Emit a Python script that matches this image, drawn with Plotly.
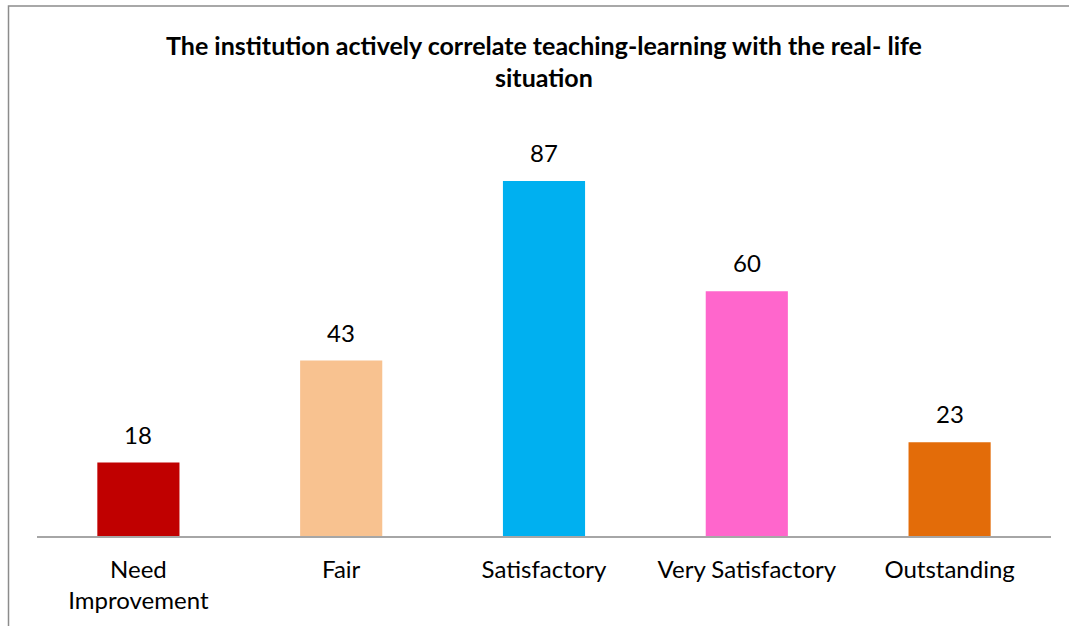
import plotly.graph_objects as go

categories = ["Need Improvement", "Fair", "Satisfactory", "Very Satisfactory", "Outstanding"]
tick_labels = ["Need<br>Improvement", "Fair", "Satisfactory", "Very Satisfactory", "Outstanding"]
values = [18, 43, 87, 60, 23]
colors = ["#C00000", "#F8C290", "#00B0F0", "#FF66CC", "#E36C09"]
title_lines = ["The institution actively correlate teaching-learning with the real- life", "situation"]

FONT = "Lato, 'Open Sans', sans-serif"

fig = go.Figure()
fig.add_trace(go.Bar(
    x=categories, y=values,
    marker=dict(color=colors, line=dict(width=0)),
    hoverinfo="x+y",
))

annotations = []
for c, v in zip(categories, values):
    annotations.append(dict(x=c, y=v, xref="x", yref="y", text=str(v), showarrow=False,
                            yanchor="bottom", yshift=12,
                            font=dict(family=FONT, size=24, color="#000000")))
annotations.append(dict(x=0.5, y=1.203, xref="paper", yref="paper", text="<b>" + title_lines[0] + "</b>",
                        showarrow=False, yanchor="middle",
                        font=dict(family=FONT, size=25, color="#000000")))
annotations.append(dict(x=0.5, y=1.1245, xref="paper", yref="paper", text="<b>" + title_lines[1] + "</b>",
                        showarrow=False, yanchor="middle",
                        font=dict(family=FONT, size=25, color="#000000")))

fig.update_layout(
    width=1069, height=626,
    margin=dict(l=37, r=18, t=128, b=90),
    paper_bgcolor="white", plot_bgcolor="white",
    bargap=0.595,
    showlegend=False,
    annotations=annotations,
    xaxis=dict(
        tickmode="array", tickvals=categories, ticktext=tick_labels,
        showline=True, linecolor="#A6A6A6", linewidth=2,
        ticks="", showgrid=False, zeroline=False,
        ticklabelstandoff=11,
        tickfont=dict(family=FONT, size=24, color="#000000"),
    ),
    yaxis=dict(range=[0, 100], visible=False, showgrid=False, zeroline=False),
    shapes=[dict(type="rect", xref="paper", yref="paper",
                 x0=-0.0281, x1=1.06, y0=-0.3, y1=1.299,
                 line=dict(color="#8C8C8C", width=1.5), fillcolor="rgba(0,0,0,0)", layer="below")],
)

fig.write_html("out.html", config={"displayModeBar": False},
               post_script="document.body.style.margin='0';")
